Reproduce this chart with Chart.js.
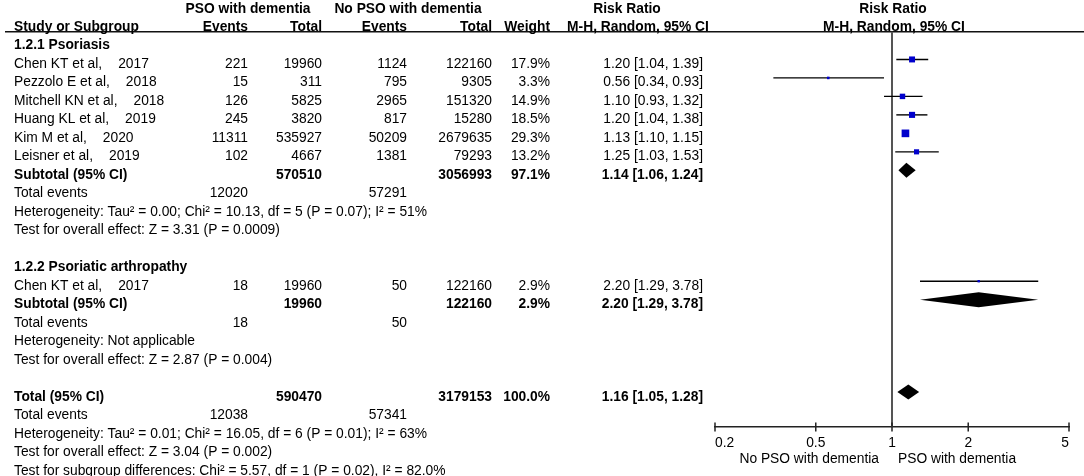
<!DOCTYPE html>
<html>
<head>
<meta charset="utf-8">
<script src="https://cdn.jsdelivr.net/npm/chart.js@4.4.1/dist/chart.umd.min.js"></script>
<style>
  html, body { margin: 0; padding: 0; background: #fff; }
  #wrap { width: 1084px; height: 476px; position: relative; }
</style>
</head>
<body>
<div id="wrap"><canvas id="forest"></canvas></div>
<script>
// study level data
var studyNames = ["Chen KT et al,", "Pezzolo E et al,", "Mitchell KN et al,", "Huang KL et al,", "Kim M et al,", "Leisner et al,", "Chen KT et al,"];
var studyYears = ["2017", "2018", "2018", "2019", "2020", "2019", "2017"];
var studyGroup = [0, 0, 0, 0, 0, 0, 1];
var psoEvents = [221, 15, 126, 245, 11311, 102, 18];
var psoTotal = [19960, 311, 5825, 3820, 535927, 4667, 19960];
var noPsoEvents = [1124, 795, 2965, 817, 50209, 1381, 50];
var noPsoTotal = [122160, 9305, 151320, 15280, 2679635, 79293, 122160];
var weights = [17.9, 3.3, 14.9, 18.5, 29.3, 13.2, 2.9];
var rr = [1.20, 0.56, 1.10, 1.20, 1.13, 1.25, 2.20];
var rrLow = [1.04, 0.34, 0.93, 1.04, 1.10, 1.03, 1.29];
var rrHigh = [1.39, 0.93, 1.32, 1.38, 1.15, 1.53, 3.78];

// subgroup and overall data
var groupTitles = ["1.2.1 Psoriasis", "1.2.2 Psoriatic arthropathy"];
var pooledTitles = ["Subtotal (95% CI)", "Subtotal (95% CI)", "Total (95% CI)"];
var pooledPsoTotal = [570510, 19960, 590470];
var pooledNoPsoTotal = [3056993, 122160, 3179153];
var pooledWeight = [97.1, 2.9, 100.0];
var pooledRR = [1.14, 2.20, 1.16];
var pooledLow = [1.06, 1.29, 1.05];
var pooledHigh = [1.24, 3.78, 1.28];
var totalEventsPso = [12020, 18, 12038];
var totalEventsNoPso = [57291, 50, 57341];
var heterogeneityText = [
  "Heterogeneity: Tau\u00b2 = 0.00; Chi\u00b2 = 10.13, df = 5 (P = 0.07); I\u00b2 = 51%",
  "Heterogeneity: Not applicable",
  "Heterogeneity: Tau\u00b2 = 0.01; Chi\u00b2 = 16.05, df = 6 (P = 0.01); I\u00b2 = 63%"
];
var overallEffectText = [
  "Test for overall effect: Z = 3.31 (P = 0.0009)",
  "Test for overall effect: Z = 2.87 (P = 0.004)",
  "Test for overall effect: Z = 3.04 (P = 0.002)"
];
var subgroupText = "Test for subgroup differences: Chi\u00b2 = 5.57, df = 1 (P = 0.02), I\u00b2 = 82.0%";
var axisTicks = [0.2, 0.5, 1, 2, 5];
var favoursLabels = ["No PSO with dementia", "PSO with dementia"];

var FONT = "'Liberation Sans', Arial, sans-serif";
var FONT_SIZE = 13.8;
var ROW_PX = 18.48;
var AXIS_ROW = 22.89;
var col = { name: 14, psoEv: 248, psoTot: 322, noEv: 407, noTot: 492, weight: 550, rr: 703 };

// lay the rows out: headers take rows 0 and 1
var rows = [];
var studyRow = [];
var pooledRow = [];
var r = 2;
for (var g = 0; g < 3; g++) {
  if (g < 2) {
    rows.push({ y: r++, bold: true, label: groupTitles[g] });
    for (var i = 0; i < studyNames.length; i++) {
      if (studyGroup[i] === g) {
        studyRow[i] = r;
        rows.push({ y: r++, study: i });
      }
    }
  }
  pooledRow[g] = r;
  rows.push({ y: r++, pooled: g, bold: true });
  rows.push({ y: r++, events: g });
  rows.push({ y: r++, label: heterogeneityText[g] });
  rows.push({ y: r++, label: overallEffectText[g] });
  if (g === 2) rows.push({ y: r++, label: subgroupText });
  else r++;
}

function ci(v, lo, hi) {
  return v.toFixed(2) + " [" + lo.toFixed(2) + ", " + hi.toFixed(2) + "]";
}

var ciDatasets = studyNames.map(function(n, i) {
  return {
    type: "line",
    data: [{ x: rrLow[i], y: studyRow[i] }, { x: rrHigh[i], y: studyRow[i] }],
    borderColor: "#000",
    borderWidth: 1.4,
    pointRadius: 0,
    order: 1
  };
});

var squares = {
  type: "scatter",
  data: studyNames.map(function(n, i) { return { x: rr[i], y: studyRow[i] }; }),
  pointStyle: "rect",
  pointRadius: function(c) { return Math.sqrt(weights[c.dataIndex]); },
  backgroundColor: "#0000CC",
  borderWidth: 0,
  order: 0
};

var forestPlugin = {
  id: "forest",
  afterDatasetsDraw: function(chart) {
    var ctx = chart.ctx;
    var xs = chart.scales.x;
    var ys = chart.scales.y;
    ctx.save();
    ctx.fillStyle = "#000";
    for (var g = 0; g < pooledRR.length; g++) {
      var y = ys.getPixelForValue(pooledRow[g]);
      ctx.beginPath();
      ctx.moveTo(xs.getPixelForValue(pooledLow[g]), y);
      ctx.lineTo(xs.getPixelForValue(pooledRR[g]), y - 7.5);
      ctx.lineTo(xs.getPixelForValue(pooledHigh[g]), y);
      ctx.lineTo(xs.getPixelForValue(pooledRR[g]), y + 7.5);
      ctx.closePath();
      ctx.fill();
    }
    ctx.restore();
  },
  beforeDatasetsDraw: function(chart) {
    var ctx = chart.ctx;
    var xs = chart.scales.x;
    var ys = chart.scales.y;
    var top = ys.getPixelForValue(1.5);
    var axisY = ys.getPixelForValue(AXIS_ROW);
    ctx.save();
    // header rule
    ctx.strokeStyle = "#111";
    ctx.lineWidth = 1.5;
    ctx.beginPath();
    ctx.moveTo(5, top);
    ctx.lineTo(chart.width, top);
    ctx.stroke();
    // line of no effect
    ctx.strokeStyle = "#555";
    ctx.lineWidth = 2;
    ctx.beginPath();
    ctx.moveTo(xs.getPixelForValue(1), top);
    ctx.lineTo(xs.getPixelForValue(1), axisY);
    ctx.stroke();
    // tick marks across the axis
    ctx.strokeStyle = "#222";
    ctx.lineWidth = 1.5;
    axisTicks.forEach(function(v) {
      var x = xs.getPixelForValue(v);
      ctx.beginPath();
      ctx.moveTo(x, axisY - 4.5);
      ctx.lineTo(x, axisY + 4.5);
      ctx.stroke();
    });
    ctx.restore();
  },
  afterDraw: function(chart) {
    var ctx = chart.ctx;
    var xs = chart.scales.x;
    var ys = chart.scales.y;
    var one = xs.getPixelForValue(1);
    function text(s, x, row, align, bold) {
      ctx.font = (bold ? "bold " : "") + FONT_SIZE + "px " + FONT;
      ctx.textAlign = align;
      ctx.fillText(s, x, ys.getPixelForValue(row) + 8.5);
    }
    ctx.save();
    ctx.fillStyle = "#000";
    ctx.textBaseline = "alphabetic";

    text("PSO with dementia", 248, 0, "center", true);
    text("No PSO with dementia", 408, 0, "center", true);
    text("Risk Ratio", 627, 0, "center", true);
    text("Risk Ratio", one + 1, 0, "center", true);
    text("Study or Subgroup", col.name, 1, "left", true);
    text("Events", col.psoEv, 1, "right", true);
    text("Total", col.psoTot, 1, "right", true);
    text("Events", col.noEv, 1, "right", true);
    text("Total", col.noTot, 1, "right", true);
    text("Weight", col.weight, 1, "right", true);
    text("M-H, Random, 95% CI", 638, 1, "center", true);
    text("M-H, Random, 95% CI", one + 2, 1, "center", true);

    rows.forEach(function(row) {
      if (row.label) {
        text(row.label, col.name, row.y, "left", row.bold);
      } else if (row.study !== undefined) {
        var i = row.study;
        ctx.font = FONT_SIZE + "px " + FONT;
        var w = ctx.measureText(studyNames[i]).width;
        text(studyNames[i], col.name, row.y, "left");
        text(studyYears[i], col.name + w + 16, row.y, "left");
        text(String(psoEvents[i]), col.psoEv, row.y, "right");
        text(String(psoTotal[i]), col.psoTot, row.y, "right");
        text(String(noPsoEvents[i]), col.noEv, row.y, "right");
        text(String(noPsoTotal[i]), col.noTot, row.y, "right");
        text(weights[i].toFixed(1) + "%", col.weight, row.y, "right");
        text(ci(rr[i], rrLow[i], rrHigh[i]), col.rr, row.y, "right");
      } else if (row.pooled !== undefined) {
        var g = row.pooled;
        text(pooledTitles[g], col.name, row.y, "left", true);
        text(String(pooledPsoTotal[g]), col.psoTot, row.y, "right", true);
        text(String(pooledNoPsoTotal[g]), col.noTot, row.y, "right", true);
        text(pooledWeight[g].toFixed(1) + "%", col.weight, row.y, "right", true);
        text(ci(pooledRR[g], pooledLow[g], pooledHigh[g]), col.rr, row.y, "right", true);
      } else if (row.events !== undefined) {
        text("Total events", col.name, row.y, "left");
        text(String(totalEventsPso[row.events]), col.psoEv, row.y, "right");
        text(String(totalEventsNoPso[row.events]), col.noEv, row.y, "right");
      }
    });

    var favY = ys.getPixelForValue(AXIS_ROW) + 36;
    ctx.font = FONT_SIZE + "px " + FONT;
    ctx.textAlign = "right";
    ctx.fillText(favoursLabels[0], one - 13, favY);
    ctx.textAlign = "left";
    ctx.fillText(favoursLabels[1], one + 6, favY);
    ctx.restore();
  }
};

var rowMin = -4 / ROW_PX;

new Chart(document.getElementById("forest").getContext("2d"), {
  data: { datasets: ciDatasets.concat([squares]) },
  options: {
    responsive: true,
    maintainAspectRatio: false,
    animation: false,
    events: [],
    layout: { autoPadding: false, padding: { left: 715, right: 15, top: 0, bottom: 0 } },
    plugins: { legend: { display: false }, tooltip: { enabled: false } },
    scales: {
      x: {
        type: "logarithmic",
        min: 0.2,
        max: 5,
        position: { y: AXIS_ROW },
        afterBuildTicks: function(scale) {
          scale.ticks = axisTicks.map(function(v) { return { value: v }; });
        },
        grid: { display: false },
        border: { display: true, color: "#222", width: 1.5 },
        ticks: {
          align: "inner",
          autoSkip: false,
          maxRotation: 0,
          padding: 0,
          color: "#000",
          font: { family: FONT, size: FONT_SIZE },
          callback: function(v) { return String(v); }
        }
      },
      y: {
        type: "linear",
        display: false,
        reverse: true,
        min: rowMin,
        max: rowMin + 476 / ROW_PX
      }
    }
  },
  plugins: [forestPlugin]
});
</script>
</body>
</html>
